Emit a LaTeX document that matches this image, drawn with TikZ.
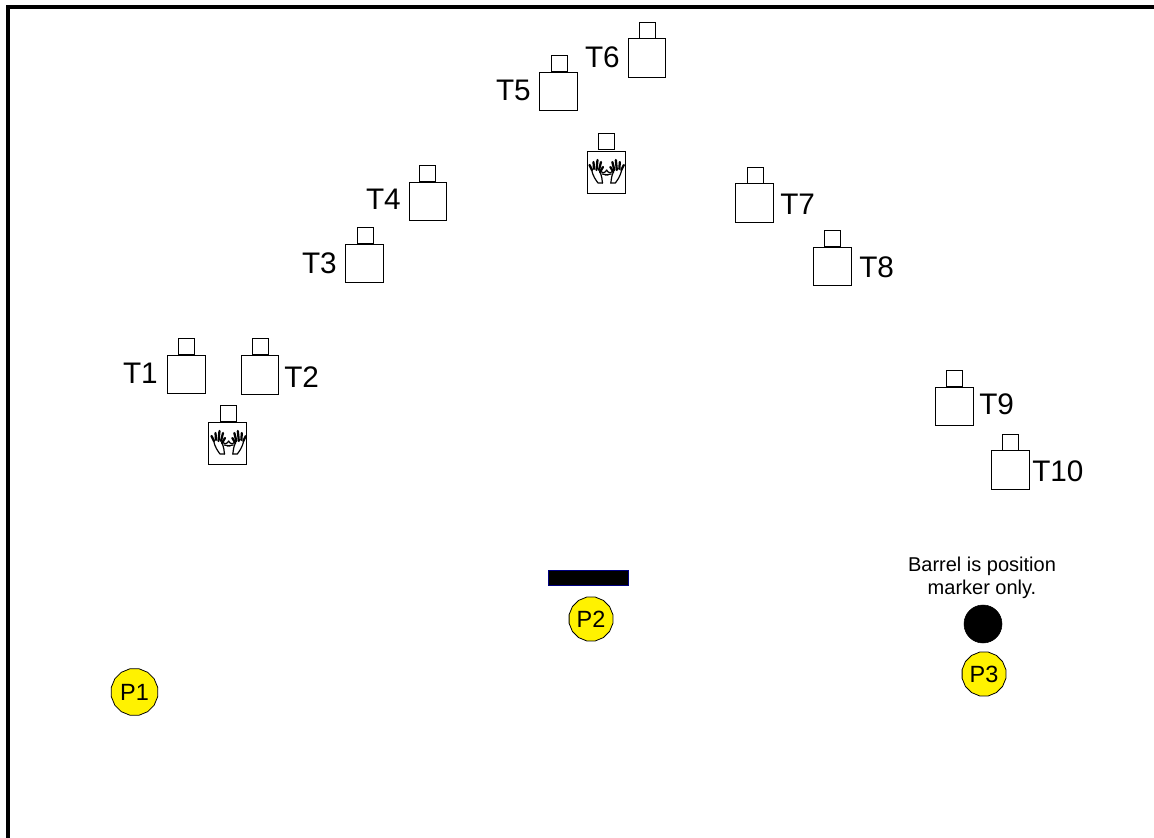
\documentclass[tikz,border=0pt]{standalone}
\usepackage{fontspec}
\setmainfont{Liberation Sans}
\usetikzlibrary{shapes.geometric}
\tikzset{
  x=0.75pt,y=-0.75pt,
  frameline/.style={line width=3pt,black},
  body/.style={draw=black,line width=0.6pt,fill=white,minimum width=28.5pt,minimum height=29pt,inner sep=0pt,outer sep=0pt},
  narrowbody/.style={body,minimum width=27.7pt},
  head/.style={draw=black,line width=0.6pt,fill=white,minimum width=12pt,minimum height=12pt,inner sep=0pt,outer sep=0pt},
  tallbody/.style={body,minimum height=31.5pt},
  tlabel/.style={font=\fontsize{22.3}{24}\selectfont,inner sep=0pt},
  player/.style={regular polygon,regular polygon sides=16,draw=black,line width=0.6pt,fill=yellow,inner sep=0pt,outer sep=0pt,minimum size=33.5pt,font=\fontsize{17.6}{20}\selectfont},
  hand/.style={draw=black,line width=0.9pt,line join=round,line cap=round},
  finger/.style={draw=black,line width=1.7pt,line cap=round},
}
\newcommand{\onehand}{%
  \draw[hand] (-3.5,12) -- (-8,12) .. controls (-10,9) and (-13,6) .. (-14.5,-2);
  \draw[hand] (-3.5,12) .. controls (-4,8) and (-4,6) .. (-6,1);
  \draw[hand] (-6,0) .. controls (-4,2) and (-2,3) .. (1,-1);
  \draw[hand] (-4,3) -- (2,4);
  \draw[finger] (-14,-1) -- (-16.5,-6);
  \draw[finger] (-12,-2) -- (-12.5,-9);
  \draw[finger] (-9.5,-1) -- (-8.5,-11);
  \draw[finger] (-7,-1) -- (-5,-9);
  \draw[finger] (-6,1) -- (-3,-4);
}
\newcommand{\twohands}[1]{%
  \begin{scope}[shift={(#1)}]
    \onehand
    \begin{scope}[xshift=1,xscale=-1]
      \onehand
    \end{scope}
  \end{scope}}
\begin{document}
\begin{tikzpicture}
\useasboundingbox (0,0) rectangle (1154,838);
\fill[white] (0,0) rectangle (1154,838);
\coordinate (fa) at (8,838); \coordinate (fb) at (8,7); \coordinate (fc) at (1154,7);
\draw[frameline,line join=miter] (fa) -- (fb) -- (fc);

\node[body] (b1) at (186.5,374.5) {}; \node[head] (h1) at (186,346) {};
\node[narrowbody] (b2) at (259.5,375) {}; \node[head] (h2) at (260,346) {};
\node[body] (b3) at (364,263.5) {}; \node[head] (h3) at (365,235) {};
\node[narrowbody] (b4) at (428,201.5) {}; \node[head] (h4) at (427,173) {};
\node[body] (b5) at (558,91.5) {}; \node[head] (h5) at (559,63.5) {};
\node[narrowbody] (b6) at (646.5,58) {}; \node[head] (h6) at (647,30) {};
\node[body] (b7) at (754,203) {}; \node[head] (h7) at (755,175) {};
\node[body] (b8) at (832,266.5) {}; \node[head] (h8) at (832,238) {};
\node[body] (b9) at (954,406.5) {}; \node[head] (h9) at (954,378) {};
\node[body] (b10) at (1010,470) {}; \node[head] (h10) at (1010,442) {};

\node[tallbody] (s1) at (227.5,443) {}; \node[head] (sh1) at (228,413) {};
\node[tallbody] (s2) at (606.5,172) {}; \node[head] (sh2) at (606,141.5) {};
\twohands{228,442}
\twohands{606,171}

\node[tlabel,anchor=east] (t1) at (158,373) {T1};
\node[tlabel,anchor=west] (t2) at (284,377) {T2};
\node[tlabel,anchor=east] (t3) at (337,263) {T3};
\node[tlabel,anchor=east] (t4) at (401,199) {T4};
\node[tlabel,anchor=east] (t5) at (531,90) {T5};
\node[tlabel,anchor=east] (t6) at (620,57) {T6};
\node[tlabel,anchor=west] (t7) at (780,204) {T7};
\node[tlabel,anchor=west] (t8) at (859,267) {T8};
\node[tlabel,anchor=west] (t9) at (979,404) {T9};
\node[tlabel,anchor=west] (t10) at (1032,471) {T10};

\node[draw={rgb,255:red,0;green,0;blue,128},fill=black,line width=0.75pt,minimum width=60pt,minimum height=11.5pt,inner sep=0pt] (bar) at (588.5,578) {};
\node[player,minimum size=35.5pt] (p1) at (134.5,692) {P1};
\node[player] (p2) at (591,619) {P2};
\node[player] (p3) at (984,674) {P3};
\node[circle,fill=black,draw=black,minimum size=28.5pt,inner sep=0pt] (barrel) at (983,624) {};
\node[align=center,font=\fontsize{15}{17.5}\selectfont,inner sep=0pt] (note) at (982,578) {Barrel is position\\marker only.};
\end{tikzpicture}
\end{document}
